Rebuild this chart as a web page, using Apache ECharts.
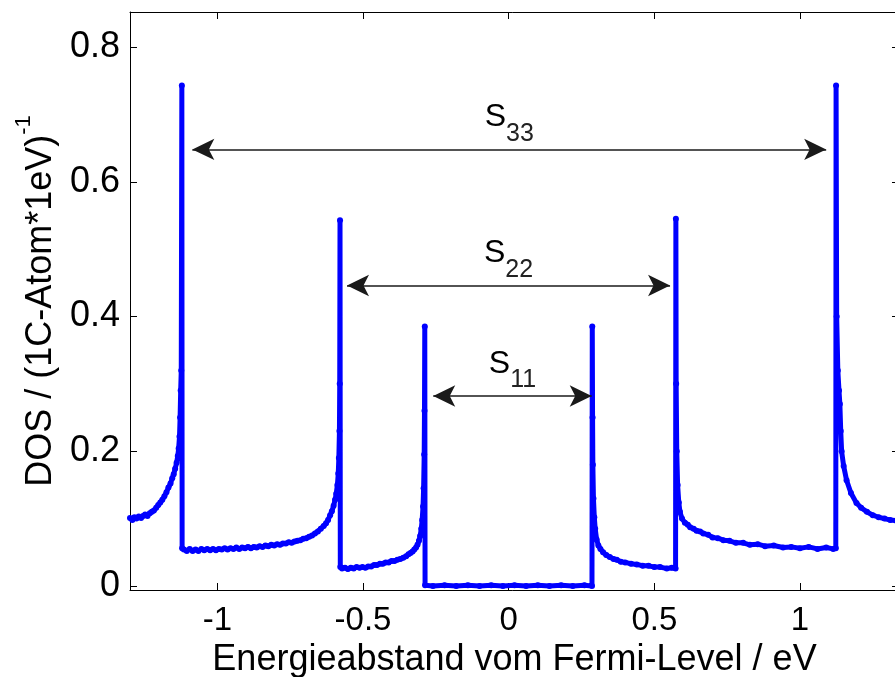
<!DOCTYPE html>
<html>
<head>
<meta charset="utf-8">
<script src="https://cdn.jsdelivr.net/npm/echarts@6/dist/echarts.min.js"></script>
<style>html,body{margin:0;padding:0;background:#fff}#c{width:895px;height:677px}</style>
</head>
<body>
<div id="c"></div>
<script>
// ---- data: [energy (eV), DOS] ----
const outerLeft = [[-1.300,0.101],[-1.292,0.098],[-1.285,0.102],[-1.278,0.100],[-1.270,0.103],[-1.262,0.101],[-1.255,0.104],[-1.248,0.106],[-1.240,0.104],[-1.232,0.108],[-1.225,0.110],[-1.218,0.112],[-1.210,0.116],[-1.203,0.120],[-1.196,0.124],[-1.189,0.128],[-1.182,0.133],[-1.175,0.139],[-1.168,0.146],[-1.161,0.152],[-1.155,0.160],[-1.150,0.166],[-1.145,0.174],[-1.140,0.183],[-1.136,0.193],[-1.133,0.204],[-1.130,0.222],[-1.128,0.250],[-1.126,0.290],[-1.124,0.320],[-1.122,0.743]];
const band2Left = [[-1.121,0.056],[-1.115,0.054],[-1.105,0.052],[-1.095,0.055],[-1.085,0.052],[-1.075,0.054],[-1.065,0.052],[-1.055,0.055],[-1.045,0.053],[-1.035,0.055],[-1.025,0.053],[-1.015,0.055],[-1.005,0.053],[-0.995,0.055],[-0.985,0.054],[-0.975,0.056],[-0.965,0.054],[-0.955,0.056],[-0.945,0.055],[-0.935,0.057],[-0.925,0.055],[-0.915,0.057],[-0.905,0.056],[-0.895,0.058],[-0.885,0.056],[-0.875,0.058],[-0.865,0.057],[-0.855,0.059],[-0.845,0.058],[-0.835,0.060],[-0.825,0.059],[-0.815,0.061],[-0.805,0.060],[-0.795,0.062],[-0.785,0.061],[-0.775,0.063],[-0.765,0.063],[-0.755,0.065],[-0.745,0.064],[-0.735,0.066],[-0.725,0.067],[-0.715,0.068],[-0.705,0.070],[-0.695,0.071],[-0.685,0.073],[-0.675,0.075],[-0.665,0.078],[-0.655,0.081],[-0.645,0.085],[-0.635,0.089],[-0.627,0.093],[-0.620,0.098],[-0.613,0.105],[-0.607,0.111],[-0.601,0.119],[-0.596,0.128],[-0.592,0.137],[-0.588,0.150],[-0.585,0.167],[-0.583,0.190],[-0.581,0.230],[-0.580,0.300],[-0.579,0.543]];
const band1Left = [[-0.578,0.028],[-0.572,0.026],[-0.562,0.027],[-0.552,0.025],[-0.542,0.027],[-0.532,0.026],[-0.522,0.028],[-0.512,0.027],[-0.502,0.028],[-0.492,0.027],[-0.482,0.029],[-0.472,0.029],[-0.462,0.031],[-0.452,0.031],[-0.442,0.033],[-0.432,0.033],[-0.422,0.035],[-0.412,0.035],[-0.402,0.037],[-0.392,0.037],[-0.382,0.039],[-0.372,0.040],[-0.362,0.042],[-0.352,0.044],[-0.344,0.047],[-0.337,0.049],[-0.330,0.051],[-0.324,0.054],[-0.318,0.057],[-0.313,0.061],[-0.308,0.067],[-0.304,0.074],[-0.300,0.085],[-0.297,0.098],[-0.294,0.118],[-0.292,0.145],[-0.290,0.195],[-0.289,0.260],[-0.288,0.385]];
const gapRegion = [[-0.287,0.001],[-0.260,0.000],[-0.220,0.001],[-0.180,0.000],[-0.140,0.001],[-0.100,0.000],[-0.060,0.001],[-0.020,0.000],[0.020,0.001],[0.060,0.000],[0.100,0.001],[0.140,0.000],[0.180,0.001],[0.220,0.000],[0.260,0.001],[0.286,0.000]];
const band1Right = [[0.287,0.385],[0.288,0.250],[0.289,0.180],[0.291,0.130],[0.294,0.102],[0.297,0.085],[0.302,0.069],[0.308,0.060],[0.315,0.055],[0.324,0.050],[0.335,0.046],[0.347,0.043],[0.360,0.040],[0.371,0.039],[0.385,0.036],[0.400,0.035],[0.420,0.033],[0.440,0.032],[0.460,0.030],[0.480,0.030],[0.500,0.028],[0.520,0.028],[0.543,0.026],[0.560,0.027],[0.573,0.026]];
const band2Right = [[0.574,0.545],[0.575,0.300],[0.577,0.200],[0.580,0.150],[0.584,0.124],[0.588,0.110],[0.595,0.100],[0.605,0.094],[0.615,0.091],[0.623,0.087],[0.635,0.085],[0.645,0.082],[0.657,0.081],[0.668,0.078],[0.685,0.076],[0.700,0.072],[0.718,0.071],[0.737,0.068],[0.758,0.067],[0.780,0.064],[0.805,0.064],[0.828,0.061],[0.855,0.062],[0.880,0.059],[0.910,0.060],[0.942,0.057],[0.970,0.058],[1.000,0.056],[1.030,0.058],[1.060,0.055],[1.090,0.057],[1.114,0.055],[1.123,0.056]];
const outerRight = [[1.124,0.743],[1.126,0.400],[1.130,0.320],[1.134,0.290],[1.137,0.270],[1.140,0.230],[1.143,0.200],[1.150,0.178],[1.160,0.157],[1.175,0.138],[1.194,0.123],[1.210,0.116],[1.230,0.110],[1.250,0.105],[1.270,0.102],[1.290,0.100],[1.310,0.098],[1.330,0.097],[1.345,0.096]];

// tick labels
const xTicks = [-1, -0.5, 0, 0.5, 1];
const yTicks = [0, 0.2, 0.4, 0.6, 0.8];

// double-arrow annotations (energy from, energy to, DOS level, subscript)
const arrowFrom = [-1.086, -0.555, -0.259];
const arrowTo   = [1.090, 0.554, 0.285];
const arrowY    = [0.648, 0.446, 0.282];
const arrowSub  = ['33', '22', '11'];

const curve = [].concat(outerLeft, band2Left, band1Left, gapRegion, band1Right, band2Right, outerRight);

const FONT = 'Liberation Sans, Arial, Helvetica, sans-serif';
const X_MIN = -1.3, X_MAX = 1.34, Y_MIN = -0.006, Y_MAX = 0.852;

const axisLineStyle = {show: true, onZero: false, lineStyle: {color: '#000', width: 1}};

const chart = echarts.init(document.getElementById('c'), null, {renderer: 'canvas'});
chart.setOption({
  animation: false,
  backgroundColor: '#fff',
  grid: {left: 130, top: 12, width: 769, height: 578, containLabel: false, outerBoundsMode: 'none'},
  xAxis: [{
    type: 'value', min: X_MIN, max: X_MAX, position: 'bottom',
    axisLine: axisLineStyle,
    axisTick: {show: true, inside: true, length: 7, customValues: xTicks, lineStyle: {color: '#000'}},
    axisLabel: {customValues: xTicks, fontSize: 33, color: '#000', fontFamily: FONT, margin: 14,
      formatter: v => String(v)},
    splitLine: {show: false},
    name: 'Energieabstand vom Fermi-Level / eV', nameLocation: 'middle', nameGap: 50,
    nameTextStyle: {fontSize: 36, color: '#000', fontFamily: FONT}
  }, {
    type: 'value', min: X_MIN, max: X_MAX, position: 'top',
    axisLine: axisLineStyle,
    axisTick: {show: true, inside: true, length: 7, customValues: xTicks, lineStyle: {color: '#000'}},
    axisLabel: {show: false}, splitLine: {show: false}
  }],
  yAxis: [{
    type: 'value', min: Y_MIN, max: Y_MAX, position: 'left',
    axisLine: axisLineStyle,
    axisTick: {show: true, inside: true, length: 7, customValues: yTicks, lineStyle: {color: '#000'}},
    axisLabel: {customValues: yTicks, fontSize: 36, color: '#000', fontFamily: FONT, margin: 10,
      formatter: v => String(v)},
    splitLine: {show: false},
    name: '{m|DOS / (1C-Atom*1eV)}{sup|-1}', nameLocation: 'middle', nameGap: 68, nameRotate: 90,
    nameTextStyle: {color: '#000', fontFamily: FONT,
      rich: {
        m: {fontSize: 36, fontFamily: FONT, color: '#000', lineHeight: 46, verticalAlign: 'bottom'},
        sup: {fontSize: 22, fontFamily: FONT, color: '#000', lineHeight: 22, verticalAlign: 'top'}
      }}
  }, {
    type: 'value', min: Y_MIN, max: Y_MAX, position: 'right',
    axisLine: axisLineStyle,
    axisTick: {show: true, inside: true, length: 7, customValues: yTicks, lineStyle: {color: '#000'}},
    axisLabel: {show: false}, splitLine: {show: false}
  }],
  series: [{
    type: 'line',
    data: curve,
    xAxisIndex: 0, yAxisIndex: 0,
    showSymbol: true, showAllSymbol: true,
    symbol: 'circle', symbolSize: 6,
    lineStyle: {color: '#0000ff', width: 5},
    itemStyle: {color: '#0000ff'},
    clip: false,
    markLine: {
      silent: true,
      symbol: ['arrow', 'arrow'],
      symbolSize: [16, 22],
      lineStyle: {color: '#1a1a1a', width: 1.5, type: 'solid'},
      label: {
        show: true, position: 'middle', distance: 3,
        formatter: p => '{s|S}{sub|' + p.name + '}{z|\u200b}',
        rich: {
          s: {fontSize: 32, fontFamily: FONT, color: '#000', lineHeight: 32, verticalAlign: 'top'},
          sub: {fontSize: 25, fontFamily: FONT, color: '#222', lineHeight: 25, verticalAlign: 'bottom'},
          z: {fontSize: 1, lineHeight: 45}
        }
      },
      data: arrowY.map((y, i) => [
        {name: arrowSub[i], coord: [arrowFrom[i], y]},
        {coord: [arrowTo[i], y]}
      ])
    }
  }]
});
</script>
</body>
</html>
